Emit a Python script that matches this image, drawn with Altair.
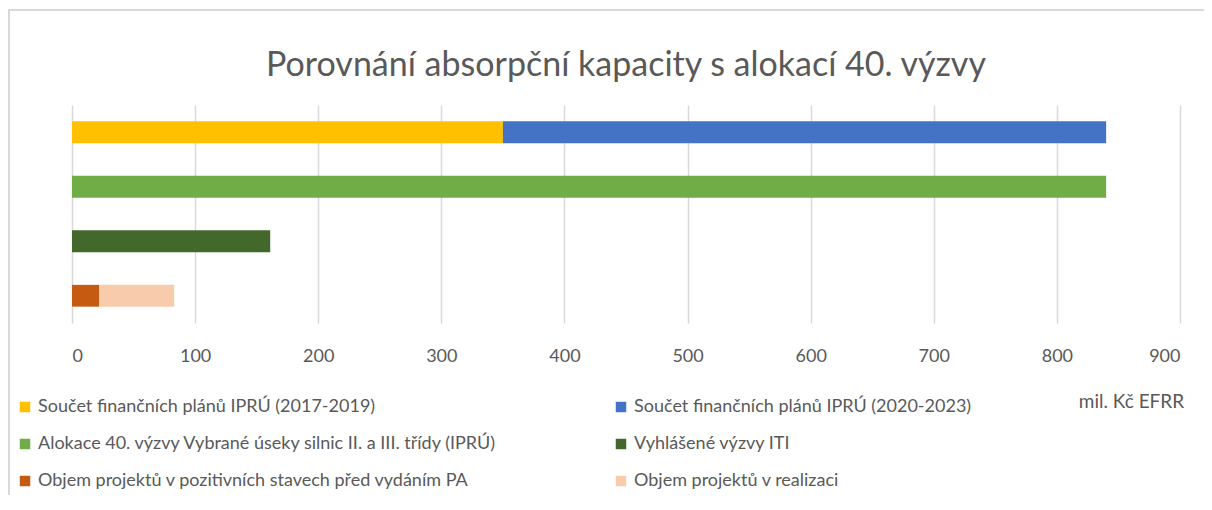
import altair as alt
import pandas as pd

rows = ["r1", "r1", "r2", "r3", "r4", "r4"]
series = [
    "Součet finančních plánů IPRÚ (2017-2019)",
    "Součet finančních plánů IPRÚ (2020-2023)",
    "Alokace 40. výzvy Vybrané úseky silnic II. a III. třídy (IPRÚ)",
    "Vyhlášené výzvy ITI",
    "Objem projektů v pozitivních stavech před vydáním PA",
    "Objem projektů v realizaci",
]
values = [350, 490, 840, 161, 22, 61]
colors = ["#FFC000", "#4472C4", "#70AD47", "#43682B", "#C55A11", "#F8CBAD"]
x_ticks = [0, 100, 200, 300, 400, 500, 600, 700, 800, 900]

df = pd.DataFrame({"row": rows, "series": series, "value": values, "ord": list(range(len(values)))})

FONT = "Lato"
GRAY = "#595959"

bars = alt.Chart(df).mark_bar().encode(
    y=alt.Y("row:N", sort=["r1", "r2", "r3", "r4"],
            scale=alt.Scale(paddingInner=0.6, paddingOuter=0.3),
            axis=None),
    x=alt.X("value:Q", stack="zero",
            scale=alt.Scale(domain=[0, 900], nice=False),
            axis=alt.Axis(values=x_ticks, grid=True, gridColor="#d9d9d9", gridWidth=1.5,
                          domain=False, ticks=False, labelPadding=24,
                          labelFont=FONT, labelFontSize=18, labelColor=GRAY,
                          title="mil. Kč EFRR", titleFont=FONT, titleFontSize=19,
                          titleFontWeight="normal", titleColor=GRAY,
                          titleX=1059, titleY=78, titleAlign="center",
                          titleBaseline="middle", titleAngle=0)),
    color=alt.Color("series:N", sort=series,
                    scale=alt.Scale(domain=series, range=colors),
                    legend=alt.Legend(title=None, orient="none", legendX=-56, legendY=293,
                                      direction="horizontal",
                                      columns=2, columnPadding=114, rowPadding=19,
                                      symbolType="square", symbolSize=110, symbolStrokeWidth=0,
                                      labelFont=FONT, labelFontSize=18, labelColor=GRAY,
                                      labelLimit=700, labelOffset=4)),
    order=alt.Order("ord:Q"),
)

frame = pd.DataFrame({"k": [0]})
top_rule = alt.Chart(frame).mark_rule(color="#d9d9d9", strokeWidth=2).encode(
    x=alt.value(-64), x2=alt.value(1132), y=alt.value(-95))
left_rule = alt.Chart(frame).mark_rule(color="#d9d9d9", strokeWidth=2).encode(
    x=alt.value(-63), y=alt.value(-95), y2=alt.value(398))

chart = alt.layer(bars, top_rule, left_rule).properties(
    width=1108, height=218,
    autosize=alt.AutoSizeParams(type="none"),
    padding={"left": 64, "top": 97, "right": 24, "bottom": 172},
    title=alt.TitleParams("Porovnání absorpční kapacity s alokací 40. výzvy",
                          font=FONT, fontSize=34, fontWeight="normal", color=GRAY,
                          anchor="middle", offset=24, dy=98, frame="group"),
).configure_view(stroke=None)

chart.save("out.html", embed_options={"renderer": "svg", "actions": False})
